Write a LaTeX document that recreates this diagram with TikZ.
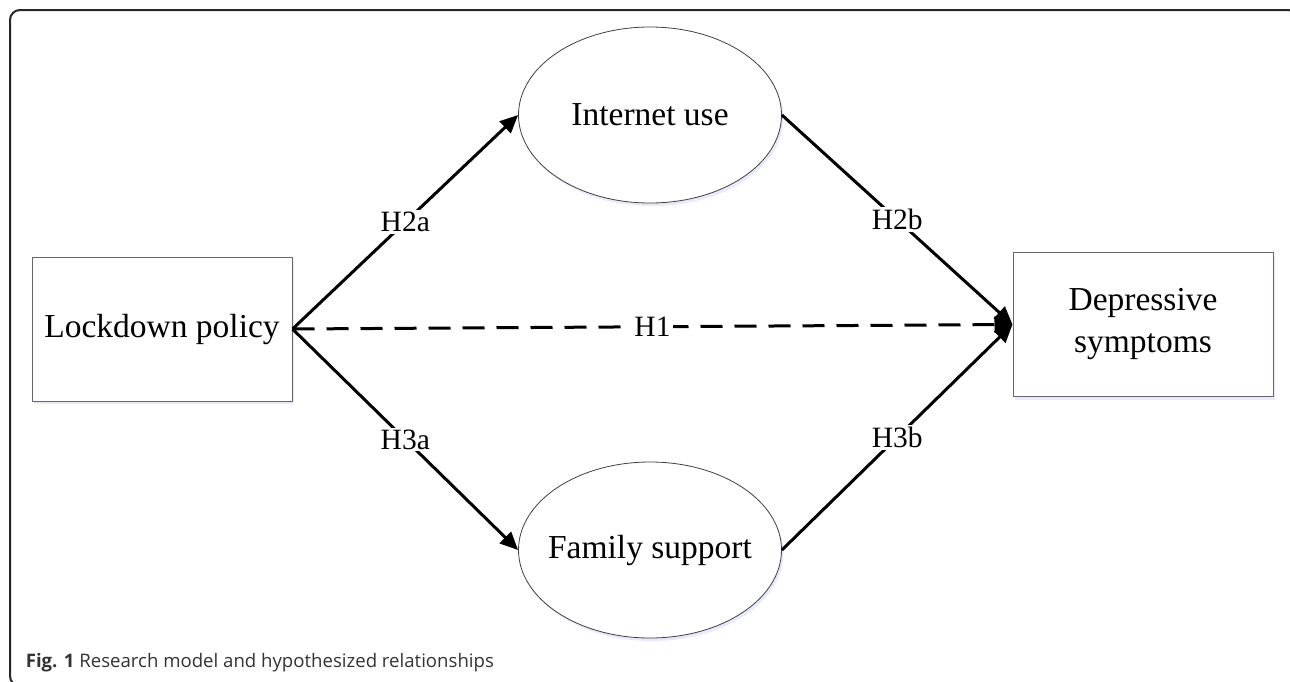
\documentclass[tikz,border=0pt]{standalone}
\usepackage{fontspec}
\setmainfont{Liberation Serif}
\newfontfamily\capfont{Open Sans}
\usetikzlibrary{arrows.meta, positioning, shapes.geometric, shadows}

\begin{document}
\begin{tikzpicture}[x=1pt, y=1pt, on grid, thick,
  var box/.style={rectangle, draw=black!60, line width=0.5pt, fill=white, minimum width=130pt, minimum height=72pt, align=center, font=\fontsize{16.75}{21}\selectfont, drop shadow={fill=blue!30!white, opacity=0.3, shadow xshift=1pt, shadow yshift=-1.5pt}},
  mediator/.style={ellipse, draw=black!75, line width=0.4pt, fill=white, inner sep=0pt, inner xsep=-15pt, minimum width=131.5pt, minimum height=88pt, font=\fontsize{16.75}{21}\selectfont, drop shadow={fill=blue!30!white, opacity=0.3, shadow xshift=1pt, shadow yshift=-1.5pt}},
  path arrow/.style={line width=1.5pt, -{Triangle[length=9pt, width=8pt]}},
  hyp label/.style={fill=white, inner sep=1pt, font=\fontsize{14.75}{17}\selectfont}]
\clip (0,0) rectangle (645,-340.5);
% outer frame
\draw[line width=1pt, black!85, rounded corners=5pt] (5,-5) rectangle (649,-343);
\node[var box] (lock) at (81,-164.5) {Lockdown policy};
\node[mediator] (int) [above right=107pt and 244pt of lock] {Internet use};
\node[mediator] (fam) [below right=110.5pt and 244pt of lock] {Family support};
\node[var box] (dep) [right=490.5pt of lock, yshift=2.25pt] {Depressive\\symptoms};
\draw[path arrow] (lock.east) -- node[hyp label]{H2a} (int.west);
\draw[path arrow] (int.east) -- node[hyp label]{H2b} (dep.west);
\draw[path arrow] (lock.east) -- node[hyp label]{H3a} (fam.west);
\draw[path arrow] (fam.east) -- node[hyp label]{H3b} (dep.west);
\draw[path arrow, dash pattern=on 11pt off 6pt] (lock.east) -- node[hyp label]{H1} (dep.west);
\node[anchor=base west, inner sep=0pt, text=black!80, font=\capfont\fontsize{9.3}{11}\selectfont] (caption) at (12.5,-333.5) {\textbf{Fig. 1} Research model and hypothesized relationships};
\end{tikzpicture}
\end{document}
